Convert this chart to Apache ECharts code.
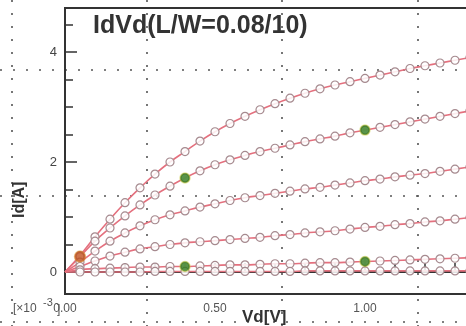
<!DOCTYPE html>
<html><head><meta charset="utf-8">
<script src="https://cdn.jsdelivr.net/npm/echarts@6/dist/echarts.min.js"></script>
<style>html,body{margin:0;padding:0;background:#fff}#c{width:466px;height:326px}</style>
</head><body><div id="c"></div>
<script>
// Drain voltage samples [V]
const vd = [0,0.05,0.10,0.15,0.20,0.25,0.30,0.35,0.40,0.45,0.50,0.55,0.60,0.65,0.70,0.75,0.80,0.85,0.90,0.95,1.00,1.05,1.10,1.15,1.20,1.25,1.30,1.35];
// Drain current curves [x10^-3 A]
const id1 = [0,0.30,0.64,0.96,1.26,1.53,1.78,2.00,2.19,2.38,2.55,2.70,2.83,2.95,3.06,3.16,3.25,3.33,3.40,3.46,3.52,3.58,3.64,3.70,3.75,3.80,3.85,3.90];
const id2 = [0,0.28,0.56,0.80,1.02,1.22,1.40,1.56,1.71,1.84,1.95,2.04,2.12,2.19,2.25,2.31,2.37,2.42,2.47,2.53,2.58,2.63,2.68,2.73,2.78,2.83,2.88,2.93];
const id3 = [0,0.18,0.38,0.56,0.71,0.84,0.95,1.04,1.11,1.18,1.24,1.30,1.35,1.39,1.43,1.47,1.51,1.54,1.58,1.62,1.66,1.69,1.73,1.76,1.79,1.83,1.87,1.91];
const id4 = [0,0.10,0.20,0.29,0.36,0.42,0.46,0.50,0.53,0.55,0.57,0.59,0.61,0.63,0.66,0.68,0.71,0.73,0.75,0.78,0.81,0.83,0.86,0.88,0.91,0.93,0.96,0.99];
const id5 = [0,0.04,0.06,0.07,0.08,0.09,0.09,0.10,0.10,0.11,0.12,0.13,0.13,0.14,0.15,0.15,0.16,0.17,0.17,0.18,0.19,0.20,0.21,0.22,0.23,0.24,0.25,0.26];
const id6 = [0,0.00,0.00,0.00,0.00,0.00,0.01,0.01,0.01,0.01,0.01,0.01,0.01,0.01,0.01,0.01,0.02,0.02,0.02,0.02,0.02,0.02,0.02,0.02,0.02,0.02,0.02,0.02];
// Highlighted points
const greenPts = [[0.40,1.71],[1.00,2.58],[0.40,0.10],[1.00,0.19]];
const orangePts = [[0.05,0.28]];
// Tick values
const xTicks = [0.1,0.2,0.3,0.4,0.5,0.6,0.7,0.8,0.9,1.0,1.1,1.2,1.3];
const xMajorTicks = [1.0];
const xLabels = [0,0.5,1.0];
const yTicks = [0,0.5,1,1.5,2,2.5,3,3.5,4,4.5];
const yMajorTicks = [2,4];
const yLabels = [0,2,4];

const FONT = '"Liberation Sans", Arial, sans-serif';
const curves = [id1,id2,id3,id4,id5,id6];
const series = curves.map(c => ({
  type:'line', smooth:true, showAllSymbol:true,
  symbol:'circle', symbolSize:8,
  itemStyle:{color:'rgba(255,255,255,0.85)', borderColor:'#a68a8f', borderWidth:1.2},
  lineStyle:{color:'#e4707e', width:1.6},
  data: vd.map((v,j)=> j===0 ? {value:[v,c[j]], symbol:'none'} : [v,c[j]]),
  z:2
}));
series.push({type:'scatter', data:greenPts, symbolSize:10,
  itemStyle:{color:'#2f7a1c', borderColor:'rgba(200,200,60,0.6)', borderWidth:1.5}, z:5});
series.push({type:'scatter', data:orangePts, symbolSize:11,
  itemStyle:{color:'#c0501e', borderColor:'rgba(220,140,40,0.6)', borderWidth:1.5}, z:5});

const dotted = {stroke:'#555', lineWidth:1.6, lineDash:[2,11]};
const graphic = [];
[12,147,282,418].forEach(x=>graphic.push({type:'line', z:0, silent:true, shape:{x1:x,y1:0,x2:x,y2:326}, style:dotted}));
[70,196,322].forEach(y=>graphic.push({type:'line', z:0, silent:true, shape:{x1:0,y1:y,x2:466,y2:y}, style:dotted}));
graphic.push({type:'text', left:242, top:309, z:10, style:{text:'Vd[V]', font:'bold 17px '+FONT, fill:'#333'}});
graphic.push({type:'text', x:12, y:218, rotation:Math.PI/2, z:10, style:{text:'Id[A]', font:'bold 16px '+FONT, fill:'#333'}});
graphic.push({type:'text', left:13, top:303, z:10, style:{text:'[×10', font:'12px '+FONT, fill:'#555'}});
graphic.push({type:'text', left:43, top:297, z:10, style:{text:'-3', font:'11px '+FONT, fill:'#555'}});
graphic.push({type:'text', left:57, top:304, z:10, style:{text:']', font:'12px '+FONT, fill:'#555'}});

const chart = echarts.init(document.getElementById('c'));
chart.setOption({
  animation:false,
  backgroundColor:'#fff',
  title:{text:'IdVd(L/W=0.08/10)', left:88, top:9,
    textStyle:{fontSize:25, fontWeight:'bold', color:'#333', fontFamily:FONT}},
  grid:{left:65, top:8, width:420, height:286, outerBoundsMode:'none', containLabel:false,
    show:true, borderColor:'#333', borderWidth:2, backgroundColor:'transparent'},
  xAxis:[{type:'value', min:0, max:1.4, position:'bottom',
    axisLine:{lineStyle:{color:'#333', width:2}},
    axisTick:{inside:true, length:9, customValues:xTicks, lineStyle:{color:'#333', width:1.5}},
    axisLabel:{customValues:xLabels, formatter:v=>v.toFixed(2), margin:9, fontSize:12, color:'#555', fontFamily:FONT},
    splitLine:{show:false}},
   {type:'value', min:0, max:1.4, position:'bottom', offset:0,
    axisLine:{show:false},
    axisTick:{show:true, inside:true, length:13, customValues:xMajorTicks, lineStyle:{color:'#333', width:1.5}},
    axisLabel:{show:false}, splitLine:{show:false}}],
  yAxis:[{type:'value', min:-0.4, max:4.8, position:'left',
    axisLine:{show:true, lineStyle:{color:'#333', width:2}},
    axisTick:{show:true, inside:true, length:8, customValues:yTicks, lineStyle:{color:'#333', width:1.5}},
    axisLabel:{customValues:yLabels, margin:8, fontSize:13, color:'#444', fontFamily:FONT},
    splitLine:{show:false}},
   {type:'value', min:-0.4, max:4.8, position:'left', offset:0,
    axisLine:{show:false},
    axisTick:{show:true, inside:true, length:12, customValues:yMajorTicks, lineStyle:{color:'#333', width:1.5}},
    axisLabel:{show:false}, splitLine:{show:false}}],
  graphic: graphic,
  series: series
});
</script></body></html>
